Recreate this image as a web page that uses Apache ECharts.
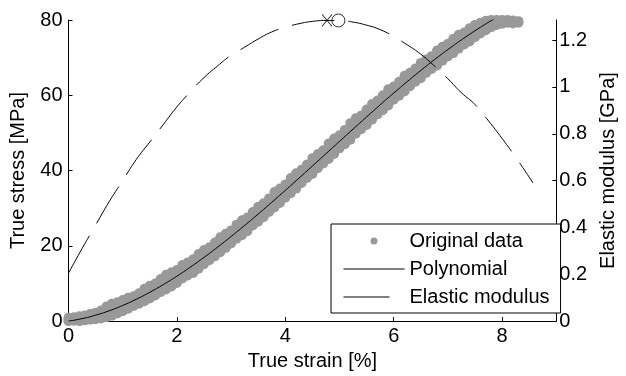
<!DOCTYPE html>
<html>
<head>
<meta charset="utf-8">
<script src="https://cdn.jsdelivr.net/npm/echarts@6/dist/echarts.min.js"></script>
<style>
html,body{margin:0;padding:0;background:#fff;}
#c{width:626px;height:376px;}
</style>
</head>
<body>
<div id="c"></div>
<script>
// Original measured data (gray band): strain [%], stress [MPa] (upper, middle and lower rows)
var origStrain = [0.0,0.1,0.2,0.3,0.4,0.5,0.6,0.7,0.8,0.9,1.0,1.1,1.2,1.3,1.4,1.5,1.6,1.7,1.8,1.9,2.0,2.1,2.2,2.3,2.4,2.5,2.6,2.7,2.8,2.9,3.0,3.1,3.2,3.3,3.4,3.5,3.6,3.7,3.8,3.9,4.0,4.1,4.2,4.3,4.4,4.5,4.6,4.7,4.8,4.9,5.0,5.1,5.2,5.3,5.4,5.5,5.6,5.7,5.8,5.9,6.0,6.1,6.2,6.3,6.4,6.5,6.6,6.7,6.8,6.9,7.0,7.1,7.2,7.3,7.4,7.5,7.6,7.7,7.8,7.9,8.0,8.1,8.2,8.3];
var origStressUpper = [0.9,1.0,1.3,1.5,1.9,2.2,2.8,3.9,4.6,5.0,5.6,6.2,6.6,7.4,8.6,9.4,10.0,11.2,12.3,13.0,13.6,14.9,15.6,16.4,17.8,18.9,19.6,20.9,22.3,23.2,24.1,25.6,26.8,27.5,29.0,30.4,31.3,32.6,34.3,35.2,36.3,38.0,39.3,40.2,41.6,43.3,44.4,45.4,47.2,48.5,49.4,50.8,52.6,53.9,54.6,56.2,57.7,58.6,60.0,61.6,62.3,63.6,65.2,66.0,67.1,68.6,69.5,70.4,71.9,72.9,73.7,75.0,76.1,76.7,77.8,78.7,79.3,79.8,80.0,80.0,80.0,80.0,79.9,79.7];
var origStressMiddle = [0.4,0.5,0.6,0.9,1.2,1.4,1.8,2.4,3.1,3.5,4.2,4.7,5.4,6.1,6.9,7.6,8.5,9.3,10.2,11.1,11.9,12.9,13.9,14.8,15.9,17.0,18.0,19.1,20.2,21.3,22.5,23.7,24.8,26.0,27.2,28.5,29.7,30.9,32.2,33.5,34.7,36.0,37.3,38.6,39.9,41.2,42.5,43.8,45.1,46.4,47.8,49.1,50.4,51.7,52.9,54.2,55.5,56.8,58.1,59.4,60.6,61.8,63.0,64.2,65.4,66.6,67.8,68.9,70.0,71.1,72.1,73.2,74.2,75.2,76.2,77.1,78.0,78.8,79.4,79.5,79.6,79.7,79.6,79.5];
var origStressLower = [0.0,0.1,0.0,0.2,0.4,0.5,0.7,1.0,1.4,2.0,2.6,3.3,4.0,4.6,5.3,6.0,6.8,7.7,8.4,9.2,10.1,11.3,12.1,12.8,13.9,15.1,16.2,17.2,18.3,19.4,20.6,21.9,22.8,23.9,25.4,26.4,27.6,29.0,30.2,31.4,32.8,34.0,35.2,36.7,38.0,39.1,40.6,41.9,43.1,44.4,45.9,47.0,48.2,49.8,51.0,52.1,53.5,54.9,56.0,57.3,58.8,59.9,61.0,62.4,63.6,64.5,65.9,67.0,67.9,69.2,70.3,71.2,72.4,73.5,74.3,75.4,76.4,77.3,78.1,78.7,79.0,79.3,79.1,79.3];

// Polynomial fit: strain [%], stress [MPa]
var polyStrain = [0,0.25,0.5,0.75,1.0,1.25,1.5,1.75,2.0,2.25,2.5,2.75,3.0,3.25,3.5,3.75,4.0,4.25,4.5,4.75,5.0,5.25,5.5,5.75,6.0,6.25,6.5,6.75,7.0,7.25,7.5,7.75,8.0];
var polyStress = [0,0.65,1.57,2.74,4.16,5.8,7.66,9.71,11.94,14.36,16.93,19.65,22.48,25.42,28.45,31.56,34.73,37.95,41.21,44.47,47.75,51.01,54.25,57.46,60.59,63.64,66.6,69.44,72.15,74.72,77.14,79.41,81.5];

// Elastic modulus: strain [%], modulus [GPa]
var modStrain = [0,0.25,0.5,0.75,1.0,1.25,1.5,1.75,2.0,2.25,2.5,2.75,3.0,3.25,3.5,3.75,4.0,4.25,4.5,4.75,5.0,5.25,5.5,5.75,6.0,6.25,6.5,6.75,7.0,7.25,7.5,7.75,8.0,8.25,8.5,8.57];
var modValue = [0.205,0.31,0.41,0.51,0.60,0.69,0.765,0.84,0.915,0.98,1.04,1.09,1.135,1.17,1.205,1.235,1.255,1.27,1.28,1.284,1.284,1.277,1.264,1.245,1.215,1.18,1.14,1.09,1.035,0.975,0.925,0.855,0.78,0.70,0.615,0.59];

// Marked points on the modulus curve
var crossStrain = [4.77];
var crossValue = [1.284];
var circleStrain = [4.98];
var circleValue = [1.284];

// Axis tick settings
var xTicks = {min: 0, max: 9, interval: 2};
var yLeftTicks = {min: 0, max: 80, interval: 20};
var yRightTicks = {min: 0, max: 1.286, interval: 0.2};

var FONT = "'Liberation Sans', Arial, sans-serif";
var FS = 20;

function pairs(xs, ys) { return xs.map(function (x, i) { return [x, ys[i]]; }); }

var origData = pairs(origStrain, origStressUpper)
  .concat(pairs(origStrain, origStressMiddle))
  .concat(pairs(origStrain, origStressLower));

var chart = echarts.init(document.getElementById('c'), null, {renderer: 'canvas'});

var axisCommon = {
  axisLine: {show: true, lineStyle: {color: '#000', width: 1}},
  axisTick: {show: true, inside: true, length: 4, lineStyle: {color: '#000'}},
  splitLine: {show: false},
  nameTextStyle: {color: '#000', fontSize: FS, fontFamily: FONT}
};

chart.setOption({
  animation: false,
  backgroundColor: '#fff',
  textStyle: {fontFamily: FONT},
  grid: {left: 68.5, right: 57.7, top: 20, bottom: 51.7, containLabel: false},
  legend: {
    show: true,
    orient: 'vertical',
    left: 331,
    top: 224,
    padding: [7, 11, 6, 12],
    itemGap: 8,
    itemWidth: 61,
    itemHeight: 7,
    borderColor: '#000',
    borderWidth: 1,
    backgroundColor: '#fff',
    textStyle: {color: '#000', fontSize: FS, fontFamily: FONT},
    data: [
      {name: 'Original data', icon: 'circle'},
      {name: 'Polynomial', itemStyle: {opacity: 0}, lineStyle: {type: 'solid', width: 1}},
      {name: 'Elastic modulus', itemStyle: {opacity: 0}, lineStyle: {type: [46, 30], width: 1}}
    ]
  },
  xAxis: Object.assign({}, axisCommon, {
    type: 'value',
    min: xTicks.min, max: xTicks.max, interval: xTicks.interval,
    name: 'True strain [%]', nameLocation: 'middle', nameGap: 29,
    axisLabel: {color: '#000', fontSize: FS, fontFamily: FONT, margin: 5, showMaxLabel: false}
  }),
  yAxis: [
    Object.assign({}, axisCommon, {
      type: 'value', position: 'left',
      min: yLeftTicks.min, max: yLeftTicks.max, interval: yLeftTicks.interval,
      name: 'True stress [MPa]', nameLocation: 'middle', nameGap: 40, nameRotate: 90,
      axisLabel: {color: '#000', fontSize: FS, fontFamily: FONT, margin: 6}
    }),
    Object.assign({}, axisCommon, {
      type: 'value', position: 'right',
      min: yRightTicks.min, max: yRightTicks.max, interval: yRightTicks.interval,
      name: 'Elastic modulus [GPa]', nameLocation: 'middle', nameGap: 37, nameRotate: 90,
      axisLabel: {color: '#000', fontSize: FS, fontFamily: FONT, margin: 3, showMaxLabel: false}
    })
  ],
  series: [
    {
      name: 'Original data', type: 'scatter', yAxisIndex: 0,
      symbol: 'circle', symbolSize: 10,
      itemStyle: {color: '#999999', opacity: 1},
      data: origData, z: 1, clip: false
    },
    {
      name: 'Polynomial', type: 'line', yAxisIndex: 0,
      showSymbol: false, symbol: 'none', smooth: true,
      lineStyle: {color: '#000', width: 1},
      itemStyle: {color: '#000'},
      data: pairs(polyStrain, polyStress), z: 3, clip: true
    },
    {
      name: 'Elastic modulus', type: 'line', yAxisIndex: 1,
      showSymbol: false, symbol: 'none', smooth: true,
      lineStyle: {color: '#000', width: 1, type: [43, 14]},
      itemStyle: {color: '#000'},
      data: pairs(modStrain, modValue), z: 3
    },
    {
      name: 'cross', type: 'scatter', yAxisIndex: 1,
      symbol: 'path://M0,0L10,12M10,0L0,12', symbolSize: [10, 12],
      itemStyle: {color: 'none', borderColor: '#000', borderWidth: 1},
      data: pairs(crossStrain, crossValue), z: 4, clip: false, silent: true
    },
    {
      name: 'circle', type: 'scatter', yAxisIndex: 1,
      symbol: 'circle', symbolSize: 13,
      itemStyle: {color: 'rgba(0,0,0,0)', borderColor: '#000', borderWidth: 1},
      data: pairs(circleStrain, circleValue), z: 4, clip: false, silent: true
    }
  ]
});
</script>
</body>
</html>
